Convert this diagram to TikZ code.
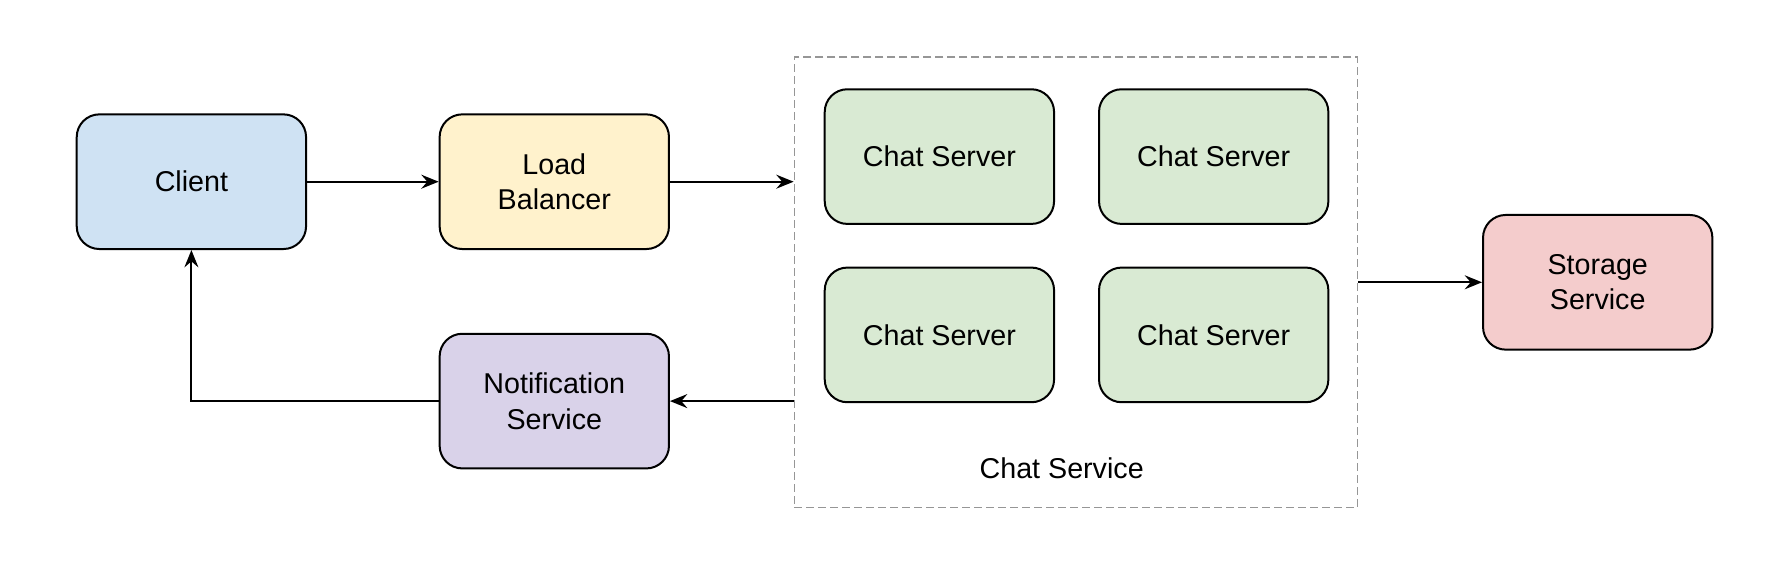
\documentclass[tikz,border=0pt]{standalone}
\usepackage{fontspec}
\setmainfont{Liberation Sans}
\usetikzlibrary{arrows.meta}

\definecolor{clientblue}{RGB}{207,226,243}
\definecolor{lbyellow}{RGB}{255,242,204}
\definecolor{servergreen}{RGB}{217,234,211}
\definecolor{storagered}{RGB}{244,204,204}
\definecolor{notifpurple}{RGB}{217,210,233}
\definecolor{dashgray}{RGB}{150,150,150}

\tikzset{
  box/.style={draw=black, line width=1.5pt, rounded corners=17pt,
    minimum width=172pt, minimum height=101pt, align=center,
    font=\fontsize{21.5}{26.5}\selectfont},
  flow/.style={line width=1.4pt, -{Stealth[length=13pt,width=10.5pt,inset=4.5pt]}},
}

\begin{document}
\begin{tikzpicture}[x=0.75pt,y=0.75pt,yscale=-1,xscale=1]
\useasboundingbox (0,0) rectangle (1792,580);

% Chat service group
\node (chatsvc) at (1076,282.3) [draw=dashgray, line width=1.1pt, dash pattern=on 6pt off 3pt,
  minimum width=422.5pt, minimum height=337.7pt] {};
\node (chatlbl) at (1061.7,468.6) [font=\fontsize{21.5}{26.5}\selectfont] {Chat Service};

% Boxes
\node (client) at (191.4,181.7) [box, fill=clientblue] {Client};
\node (lb) at (554.3,181.7) [box, fill=lbyellow] {Load\\Balancer};
\node (notif) at (554.3,401.1) [box, fill=notifpurple] {Notification\\Service};
\node (storage) at (1597.7,282.3) [box, fill=storagered] {Storage\\Service};

\node (srvA) at (939.4,156.6) [box, fill=servergreen] {Chat Server};
\node (srvB) at (1213.7,156.6) [box, fill=servergreen] {Chat Server};
\node (srvC) at (939.4,334.9) [box, fill=servergreen] {Chat Server};
\node (srvD) at (1213.7,334.9) [box, fill=servergreen] {Chat Server};

% Connectors
\draw [flow] (client.east) -- (lb.west);
\draw [flow] (lb.east) -- (lb.east -| chatsvc.west);
\draw [flow] (chatsvc.east) -- (storage.west);
\draw [flow] (chatsvc.west |- notif.east) -- (notif.east);
\draw [flow] (notif.west) -| (client.south);

\end{tikzpicture}
\end{document}
